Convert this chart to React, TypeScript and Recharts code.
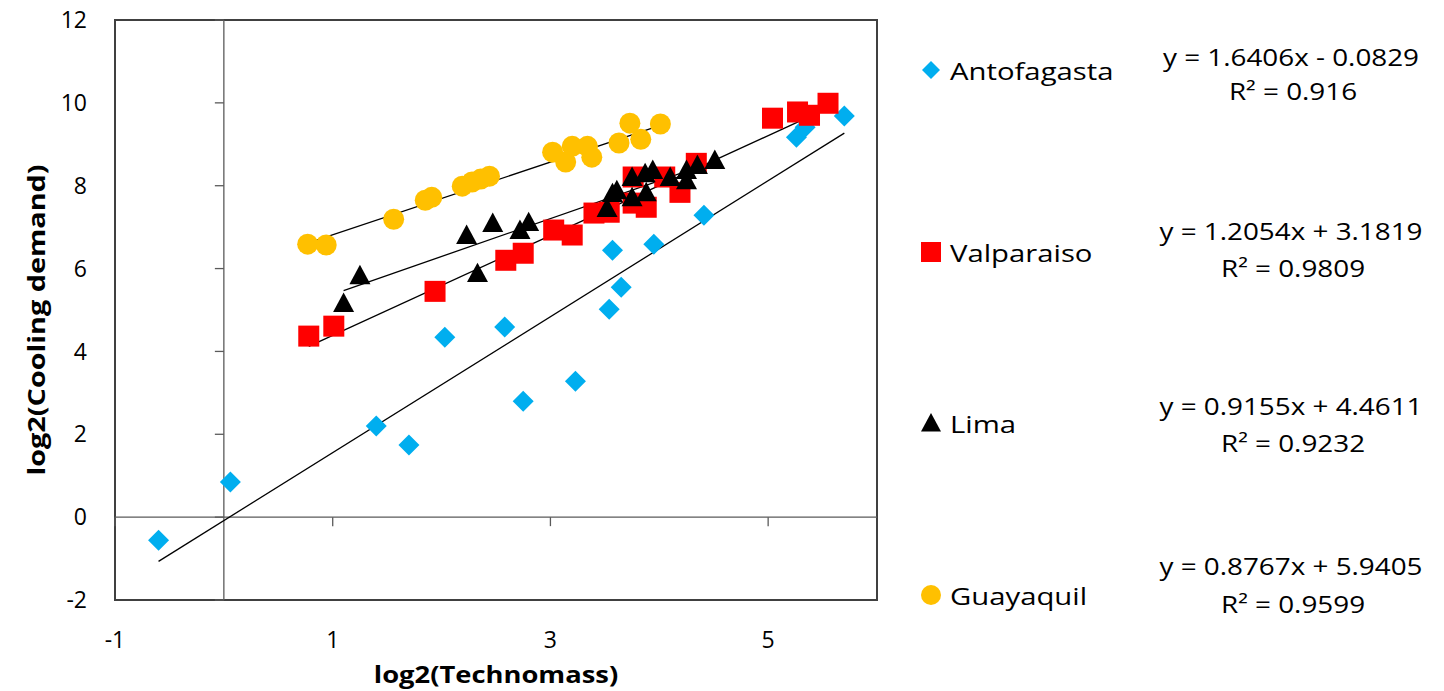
import {
  ScatterChart, Scatter, XAxis, YAxis, ReferenceLine, ReferenceArea,
  ReferenceDot, Label,
} from 'recharts'

const FONT = "'Open Sans', sans-serif"

const xTicks = [-1, 1, 3, 5]
const yTicks = [-2, 0, 2, 4, 6, 8, 10, 12]

const seriesNames = ['Antofagasta', 'Valparaiso', 'Lima', 'Guayaquil']
const seriesColors = ['#00AEEF', '#FF0000', '#000000', '#FFC000']
const seriesShapes = ['diamond', 'square', 'triangle', 'circle'] as const

// trendline coefficients as printed next to the legend
const slopes = [1.6406, 1.2054, 0.9155, 0.8767]
const intercepts = [-0.0829, 3.1819, 4.4611, 5.9405]
const rSquared = ['0.916', '0.9809', '0.9232', '0.9599']

// [log2(Technomass), log2(Cooling demand)]
const antofagasta = [
  [-0.6, -0.56], [0.06, 0.85], [1.4, 2.2], [1.7, 1.74], [2.03, 4.34], [2.58, 4.59],
  [2.75, 2.8], [3.23, 3.28], [3.54, 5.02], [3.57, 6.44], [3.65, 5.55], [3.95, 6.59],
  [4.41, 7.29], [5.26, 9.17], [5.34, 9.41], [5.7, 9.68],
]
const valparaiso = [
  [0.78, 4.37], [1.01, 4.61], [1.94, 5.45], [2.59, 6.2], [2.75, 6.37], [3.03, 6.93],
  [3.2, 6.81], [3.4, 7.34], [3.54, 7.36], [3.76, 8.21], [3.76, 7.58], [3.88, 7.48],
  [4.05, 8.21], [4.19, 7.84], [4.34, 8.54], [5.04, 9.63], [5.27, 9.78], [5.38, 9.7],
  [5.55, 9.99],
]
const lima = [
  [1.1, 5.17], [1.25, 5.84], [2.23, 6.81], [2.33, 5.89], [2.47, 7.1], [2.72, 6.93],
  [2.8, 7.12], [3.52, 7.46], [3.57, 7.82], [3.61, 7.89], [3.75, 7.72], [3.75, 8.21],
  [3.87, 8.3], [3.88, 7.84], [3.94, 8.38], [4.1, 8.21], [4.25, 8.38], [4.25, 8.13],
  [4.35, 8.5], [4.51, 8.62],
]
const guayaquil = [
  [0.77, 6.59], [0.94, 6.57], [1.56, 7.19], [1.85, 7.65], [1.91, 7.72], [2.19, 7.99],
  [2.28, 8.09], [2.36, 8.16], [2.44, 8.23], [3.02, 8.81], [3.14, 8.57], [3.2, 8.95],
  [3.34, 8.95], [3.38, 8.69], [3.63, 9.03], [3.73, 9.51], [3.83, 9.12], [4.01, 9.49],
]

const seriesData = [antofagasta, valparaiso, lima, guayaquil].map(arr =>
  arr.map(([x, y]) => ({ x, y }))
)

// legend layout (page px)
const legendMarkerY = [70, 252, 423, 595]
const eqBaselines = [[66, 100], [240, 277], [415, 452], [575, 613]]

type ShapeKind = typeof seriesShapes[number]

function Marker({ kind, cx, cy, size, color }: {
  kind: ShapeKind; cx: number; cy: number; size: number; color: string
}) {
  const h = size / 2
  if (kind === 'diamond') {
    return <polygon points={`${cx},${cy - h} ${cx + h},${cy} ${cx},${cy + h} ${cx - h},${cy}`} fill={color} />
  }
  if (kind === 'square') {
    return <rect x={cx - h} y={cy - h} width={size} height={size} fill={color} />
  }
  if (kind === 'triangle') {
    return <polygon points={`${cx},${cy - h} ${cx + h},${cy + h * 0.85} ${cx - h},${cy + h * 0.85}`} fill={color} />
  }
  return <circle cx={cx} cy={cy} r={h} fill={color} />
}

// stretched text, the source figure is wider than tall
function WideText({ x, y, sx, anchor = 'start', rotate = 0, bold = false, children }: {
  x: number; y: number; sx: number; anchor?: 'start' | 'middle'; rotate?: number
  bold?: boolean; children: React.ReactNode
}) {
  return (
    <text
      x={0}
      y={0}
      transform={`translate(${x},${y}) rotate(${rotate}) scale(${sx},1)`}
      textAnchor={anchor}
      fontFamily={FONT}
      fontSize={24}
      fontWeight={bold ? 'bold' : 'normal'}
      fill="#000"
    >
      {children}
    </text>
  )
}

const fmtEq = (m: number, b: number) =>
  `y = ${m.toFixed(4)}x ${b < 0 ? '-' : '+'} ${Math.abs(b).toFixed(4)}`

export default function App() {
  const axisColor = '#5a5a5a'

  return (
    <div style={{ position: 'absolute', left: 0, top: 0, width: 1436, height: 691 }}>
      <ScatterChart
        width={1436}
        height={691}
        margin={{ top: 20, right: 559, bottom: 0, left: 0 }}
      >
        <XAxis
          type="number"
          dataKey="x"
          domain={[-1, 6]}
          ticks={xTicks}
          allowDataOverflow
          axisLine={false}
          tickLine={false}
          tickSize={0}
          tickMargin={32}
          height={91}
          tick={{ fontSize: 23, fill: '#000', fontFamily: FONT }}
        >
          <Label
            content={() => (
              <WideText x={496} y={683} sx={1.14} anchor="middle" bold>
                log2(Technomass)
              </WideText>
            )}
          />
        </XAxis>
        <YAxis
          type="number"
          dataKey="y"
          domain={[-2, 12]}
          ticks={yTicks}
          allowDataOverflow
          axisLine={false}
          tickLine={false}
          tickSize={0}
          tickMargin={28}
          width={115}
          tick={{ fontSize: 23, fill: '#000', fontFamily: FONT }}
        >
          <Label
            content={() => (
              <WideText x={45} y={320} sx={1.2} anchor="middle" rotate={-90} bold>
                log2(Cooling demand)
              </WideText>
            )}
          />
        </YAxis>

        <ReferenceArea x1={-1} x2={6} y1={-2} y2={12} fill="none" stroke="#404040" strokeWidth={2} />
        <ReferenceLine x={0} stroke={axisColor} strokeWidth={1.3} />
        <ReferenceLine y={0} stroke={axisColor} strokeWidth={1.3} />
        {yTicks.map(t => (
          <ReferenceDot
            key={`yt-${t}`}
            x={0}
            y={t}
            shape={(p: any) => (
              <line x1={p.cx - 9} y1={p.cy} x2={p.cx} y2={p.cy} stroke={axisColor} strokeWidth={1.3} />
            )}
          />
        ))}
        {xTicks.map(t => (
          <ReferenceDot
            key={`xt-${t}`}
            x={t}
            y={0}
            shape={(p: any) => (
              <line x1={p.cx} y1={p.cy} x2={p.cx} y2={p.cy + 9} stroke={axisColor} strokeWidth={1.3} />
            )}
          />
        ))}

        {seriesData.map((data, i) => (
          <Scatter
            key={seriesNames[i]}
            name={seriesNames[i]}
            data={data}
            isAnimationActive={false}
            shape={(p: any) => (
              <Marker kind={seriesShapes[i]} cx={p.cx} cy={p.cy} size={21} color={seriesColors[i]} />
            )}
          />
        ))}

        {seriesData.map((data, i) => {
          const xs = data.map(d => d.x)
          const x0 = Math.min(...xs)
          const x1 = Math.max(...xs)
          return (
            <ReferenceLine
              key={`fit-${i}`}
              segment={[
                { x: x0, y: slopes[i] * x0 + intercepts[i] },
                { x: x1, y: slopes[i] * x1 + intercepts[i] },
              ]}
              stroke="#000"
              strokeWidth={1.3}
            />
          )
        })}
      </ScatterChart>

      {/* legend + trendline equations */}
      <svg
        width={1436}
        height={691}
        style={{ position: 'absolute', left: 0, top: 0, pointerEvents: 'none' }}
      >
        {seriesNames.map((name, i) => (
          <g key={name}>
            <Marker
              kind={seriesShapes[i]}
              cx={931}
              cy={legendMarkerY[i]}
              size={seriesShapes[i] === 'diamond' ? 18 : 20}
              color={seriesColors[i]}
            />
            <WideText x={950} y={legendMarkerY[i] + 10} sx={1.22}>
              {name}
            </WideText>
            <WideText x={1291} y={eqBaselines[i][0]} sx={1.16} anchor="middle">
              {fmtEq(slopes[i], intercepts[i])}
            </WideText>
            <WideText x={1293} y={eqBaselines[i][1]} sx={1.16} anchor="middle">
              {`R² = ${rSquared[i]}`}
            </WideText>
          </g>
        ))}
      </svg>
    </div>
  )
}
